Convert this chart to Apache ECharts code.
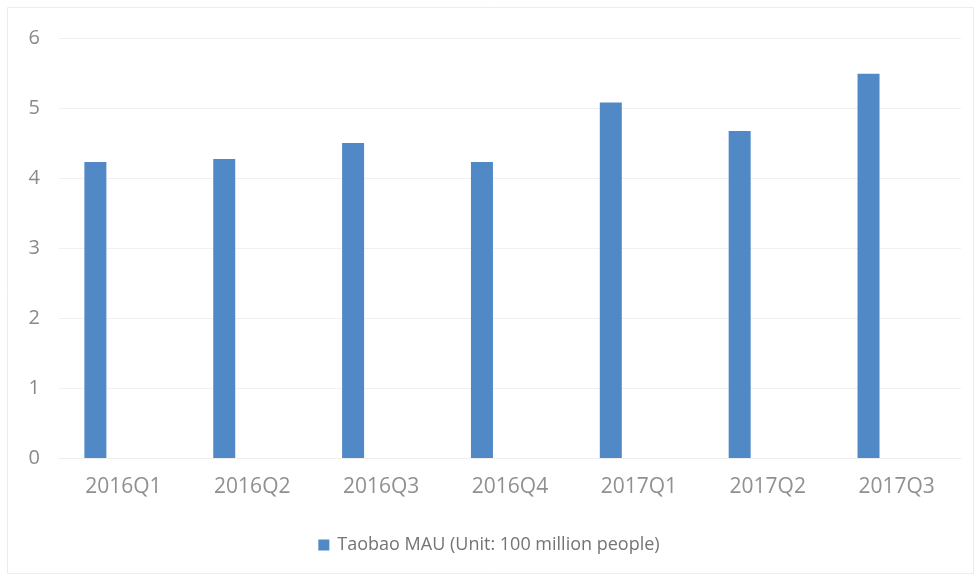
<!DOCTYPE html>
<html>
<head>
<meta charset="utf-8">
<script src="https://cdn.jsdelivr.net/npm/echarts@6/dist/echarts.min.js"></script>
<style>
  html, body { margin: 0; padding: 0; background: #ffffff; }
  #chart { width: 978px; height: 578px; }
</style>
</head>
<body>
<div id="chart"></div>
<script>
// Quarterly labels along the x axis
const quarters = ['2016Q1', '2016Q2', '2016Q3', '2016Q4', '2017Q1', '2017Q2', '2017Q3'];
// Taobao monthly active users, in units of 100 million
const taobaoMau = [4.23, 4.27, 4.50, 4.23, 5.08, 4.67, 5.49];
// Y axis range and step
const yMin = 0;
const yMax = 6;
const yStep = 1;

const seriesName = 'Taobao MAU (Unit: 100 million people)';
const fontFamily = '"Open Sans", "Noto Sans", sans-serif';

const chart = echarts.init(document.getElementById('chart'), null, { renderer: 'canvas' });
chart.setOption({
  backgroundColor: '#ffffff',
  animation: false,
  graphic: [{
    type: 'rect',
    shape: { x: 7.5, y: 7.5, width: 966, height: 566 },
    style: { fill: 'none', stroke: '#ececec', lineWidth: 1 },
    silent: true
  }],
  grid: { left: 59, right: 17, top: 38, bottom: 120 },
  legend: {
    data: [seriesName],
    top: 531,
    left: 'center',
    itemWidth: 11,
    itemHeight: 11,
    icon: 'rect',
    itemGap: 10,
    textStyle: { color: '#747474', fontSize: 18, fontFamily: fontFamily, padding: [0, 0, 0, 3] }
  },
  xAxis: {
    type: 'category',
    data: quarters,
    axisLine: { show: true, lineStyle: { color: '#eeeeee' } },
    axisTick: { show: false },
    axisLabel: { color: '#909090', fontSize: 21, fontFamily: fontFamily, margin: 19 }
  },
  yAxis: {
    type: 'value',
    min: yMin,
    max: yMax,
    interval: yStep,
    axisLine: { show: false },
    axisTick: { show: false },
    splitLine: { lineStyle: { color: '#f0f0f0' } },
    axisLabel: { color: '#8a8a8a', fontSize: 20, fontFamily: fontFamily, margin: 19 }
  },
  series: [
    {
      name: seriesName,
      type: 'bar',
      data: taobaoMau,
      barWidth: 22,
      barGap: '155%',
      itemStyle: { color: '#5089c6' }
    },
    {
      // empty companion slot so the bars sit left of each category centre
      name: '',
      type: 'bar',
      data: [],
      barWidth: 22
    }
  ]
});
</script>
</body>
</html>
